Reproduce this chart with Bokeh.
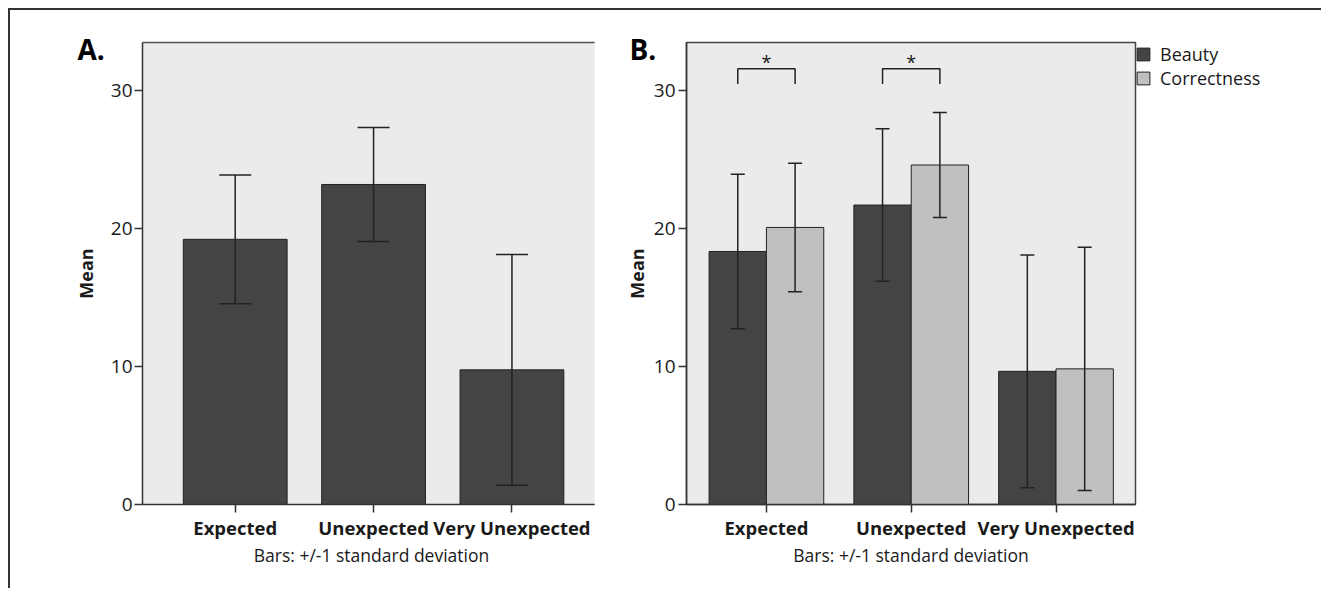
from bokeh.plotting import figure
from bokeh.models import (Range1d, FixedTicker, ColumnDataSource, Whisker, TeeHead,
                          Legend, LegendItem, Label, LinearAxis)
from bokeh.layouts import row
from bokeh.core.properties import value
from bokeh.embed import file_html
from bokeh.resources import INLINE

# ---------------- data ----------------
categories = ["Expected", "Unexpected", "Very Unexpected"]
a_mean = [19.2, 23.17, 9.75]
a_sd = [4.66, 4.13, 8.35]
b_beauty_mean = [18.32, 21.68, 9.64]
b_beauty_sd = [5.59, 5.52, 8.43]
b_correct_mean = [20.06, 24.58, 9.82]
b_correct_sd = [4.65, 3.80, 8.80]
series_names = ["Beauty", "Correctness"]
y_ticks = [0, 10, 20, 30]
sig_groups = ["Expected", "Unexpected"]
sig_low = 30.45
sig_high = 31.55
x_axis_title = "Bars: +/-1 standard deviation"
y_axis_title = "Mean"
panel_titles = ["A.", "B."]

# ---------------- style ----------------
FONT = "Open Sans"
TEXT = "#1a1a1a"
DARK = "#444444"
LIGHT = "#c0c0c0"
BG = "#ebebeb"
LINE = "#222222"
H = 578
TOP = 32
FRAME_H = 462
Y_MAX = 33.45

xs = [i + 1 for i in range(len(categories))]
overrides = {x: c for x, c in zip(xs, categories)}


def make_fig(frame_w, x_range, left, right, tick_standoff, label_standoff):
    p = figure(frame_width=frame_w, frame_height=FRAME_H, x_range=x_range,
               y_range=Range1d(0, Y_MAX),
               output_backend="svg", toolbar_location=None, tools="")
    p.min_border_left = left
    p.min_border_right = right
    p.min_border_top = TOP
    p.min_border_bottom = H - TOP - FRAME_H
    p.background_fill_color = BG
    p.border_fill_color = "white"
    p.grid.visible = False
    for ax in (p.xaxis[0], p.yaxis[0]):
        ax.axis_line_color = "#333333"
        ax.axis_line_width = 1.5
        ax.major_tick_line_color = "#333333"
        ax.major_tick_line_width = 1.5
        ax.major_tick_out = 8
        ax.major_tick_in = 0
        ax.minor_tick_line_color = None
        ax.major_label_standoff = 2
    p.yaxis.major_label_standoff = tick_standoff
    p.yaxis.ticker = FixedTicker(ticks=y_ticks)
    p.yaxis.major_label_text_font = FONT
    p.yaxis.major_label_text_font_size = "19px"
    p.yaxis.major_label_text_color = TEXT
    p.yaxis.axis_label = y_axis_title
    p.yaxis.axis_label_text_font = FONT
    p.yaxis.axis_label_text_font_style = "bold"
    p.yaxis.axis_label_text_font_size = "18px"
    p.yaxis.axis_label_text_color = TEXT
    p.yaxis.axis_label_standoff = label_standoff
    p.xaxis.ticker = FixedTicker(ticks=xs)
    p.xaxis.major_label_overrides = overrides
    p.xaxis.major_label_text_font = FONT
    p.xaxis.major_label_text_font_style = "bold"
    p.xaxis.major_label_text_font_size = "18.5px"
    p.xaxis.major_label_text_color = TEXT
    p.xaxis.axis_label = x_axis_title
    p.xaxis.axis_label_text_font = FONT
    p.xaxis.axis_label_text_font_style = "normal"
    p.xaxis.axis_label_text_font_size = "17.5px"
    p.xaxis.axis_label_text_color = TEXT
    p.xaxis.axis_label_standoff = 0
    return p


def add_whiskers(p, x, mean, sd, cap):
    src = ColumnDataSource(dict(x=x, upper=[m + s for m, s in zip(mean, sd)],
                                lower=[m - s for m, s in zip(mean, sd)]))
    w = Whisker(source=src, base="x", upper="upper", lower="lower", dimension="height",
                line_color=LINE, line_width=1.5, level="annotation",
                upper_head=TeeHead(size=cap, line_color=LINE, line_width=1.5),
                lower_head=TeeHead(size=cap, line_color=LINE, line_width=1.5))
    p.add_layout(w)


def add_panel_label(p, text, dx):
    # placed in the outer left panel; offsets in pixels relative to that panel
    p.add_layout(Label(text=text, x=dx, y=FRAME_H - 6, x_units="screen", y_units="screen",
                       text_font=FONT, text_font_style="bold",
                       text_font_size="28px", text_color="#000000",
                       text_baseline="alphabetic", text_align="left"), "left")


# ---------------- panel A ----------------
pA = make_fig(458, Range1d(0.33, 3.64), 132, 0, 2, 10)
pA.outline_line_color = None
top_ax = LinearAxis(major_tick_line_color=None, minor_tick_line_color=None,
                    major_label_text_font_size="0px", axis_line_color="#555555",
                    axis_line_width=1.5, ticker=FixedTicker(ticks=[]))
pA.add_layout(top_ax, "above")
pA.vbar(x=xs, top=a_mean, width=0.75, bottom=0, fill_color=DARK,
        line_color=LINE, line_width=1)
add_whiskers(pA, xs, a_mean, a_sd, 32)
add_panel_label(pA, panel_titles[0], 34)

# ---------------- panel B ----------------
off = 0.198
bw = 0.396
pB = make_fig(449, Range1d(0.448, 3.549), 86, 170, 3, 2)
pB.margin = (0, 0, 0, -6)
pB.outline_line_color = "#444444"
pB.outline_line_width = 1.5
xb = [x - off for x in xs]
xc = [x + off for x in xs]
rb = pB.vbar(x=xb, top=b_beauty_mean, width=bw, bottom=0, fill_color=DARK,
             line_color=LINE, line_width=1)
rc = pB.vbar(x=xc, top=b_correct_mean, width=bw, bottom=0, fill_color=LIGHT,
             line_color=LINE, line_width=1)
add_whiskers(pB, xb, b_beauty_mean, b_beauty_sd, 14)
add_whiskers(pB, xc, b_correct_mean, b_correct_sd, 14)

# significance brackets
sig_x = [xs[categories.index(g)] for g in sig_groups]
pB.multi_line(xs=[[x - off, x - off, x + off, x + off] for x in sig_x],
              ys=[[sig_low, sig_high, sig_high, sig_low] for _ in sig_x],
              line_color=LINE, line_width=1.5)
pB.text(x=sig_x, y=[sig_high + 0.5] * len(sig_x), text=["*"] * len(sig_x),
        text_font=value(FONT), text_font_size="18px", text_color=TEXT,
        text_align="center", text_baseline="middle")

legend = Legend(items=[LegendItem(label=series_names[0], renderers=[rb]),
                       LegendItem(label=series_names[1], renderers=[rc])],
                location="top_left", margin=0, padding=3, spacing=0,
                glyph_width=16, glyph_height=16, label_standoff=9,
                label_text_font=FONT, label_text_font_size="18px",
                label_text_color=TEXT, border_line_color=None,
                background_fill_alpha=0)
pB.add_layout(legend, "right")
add_panel_label(pB, panel_titles[1], 35)

layout = row(pA, pB, styles={"border-top": "2px solid #333333",
                             "border-left": "2px solid #333333",
                             "margin-left": "8px", "margin-top": "8px"})

open("out.html", "w").write(file_html(layout, INLINE))
